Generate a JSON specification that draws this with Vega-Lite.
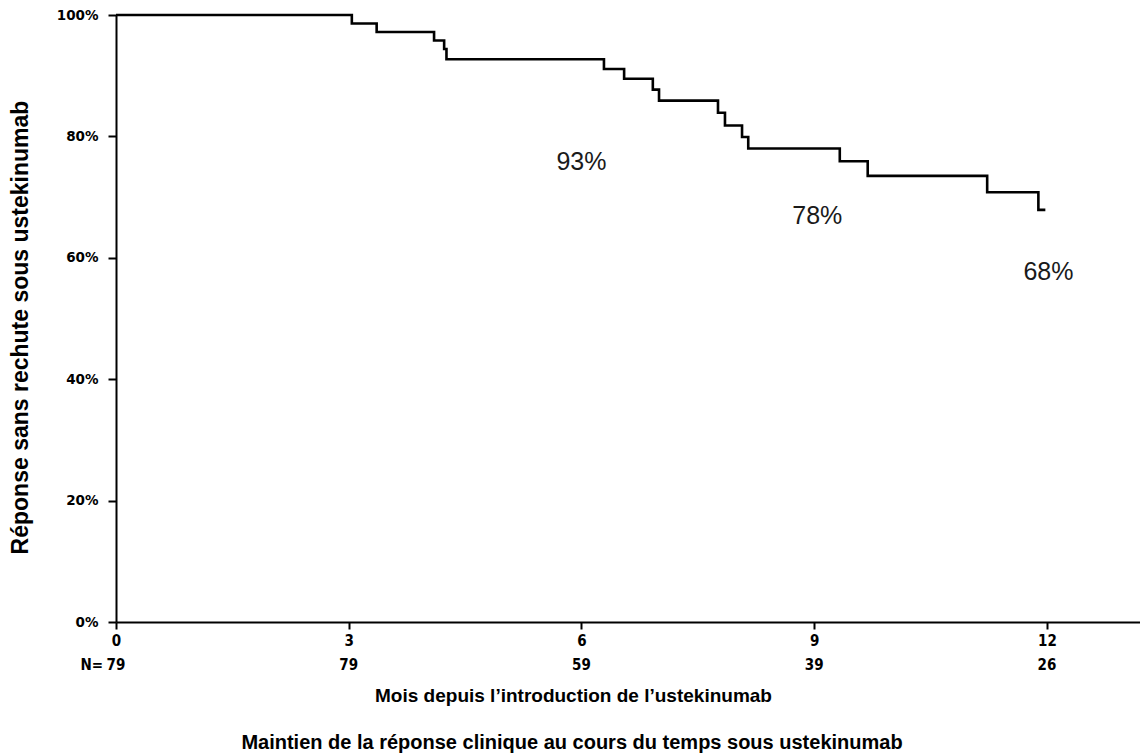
{
  "$schema": "https://vega.github.io/schema/vega-lite/v6.json",
  "width": 1024,
  "height": 607,
  "autosize": {"type": "none"},
  "padding": {"left": 116, "top": 15, "right": 0, "bottom": 133},
  "background": "white",
  "config": {"view": {"stroke": null}, "axis": {"grid": false}},
  "title": {
    "text": "Maintien de la réponse clinique au cours du temps sous ustekinumab",
    "orient": "bottom",
    "anchor": "middle",
    "dx": -56,
    "offset": 28,
    "font": "Liberation Sans",
    "fontSize": 20,
    "fontWeight": "bold",
    "color": "black"
  },
  "datasets": {
    "km": [
      {"month": 0, "survival": 100},
      {"month": 3.04, "survival": 98.6},
      {"month": 3.36, "survival": 97.2},
      {"month": 4.10, "survival": 95.8},
      {"month": 4.23, "survival": 94.4},
      {"month": 4.26, "survival": 92.7},
      {"month": 6.29, "survival": 91.1},
      {"month": 6.55, "survival": 89.5},
      {"month": 6.92, "survival": 87.7},
      {"month": 7.00, "survival": 85.9},
      {"month": 7.76, "survival": 83.9},
      {"month": 7.85, "survival": 81.8},
      {"month": 8.07, "survival": 79.9},
      {"month": 8.15, "survival": 78.0},
      {"month": 9.33, "survival": 75.9},
      {"month": 9.69, "survival": 73.5},
      {"month": 11.23, "survival": 70.8},
      {"month": 11.89, "survival": 67.9},
      {"month": 11.98, "survival": 67.9}
    ],
    "ann": [
      {"month": 6.0, "value": 75.8, "label": "93%"},
      {"month": 9.04, "value": 66.9, "label": "78%"},
      {"month": 12.02, "value": 57.7, "label": "68%"}
    ],
    "nrisk": [
      {"month": 0, "n": "79"},
      {"month": 3, "n": "79"},
      {"month": 6, "n": "59"},
      {"month": 9, "n": "39"},
      {"month": 12, "n": "26"}
    ],
    "nlab": [{"label": "N="}]
  },
  "layer": [
    {
      "data": {"name": "km"},
      "mark": {"type": "line", "interpolate": "step-after", "color": "black", "strokeWidth": 2.6},
      "encoding": {
        "x": {
          "field": "month",
          "type": "quantitative",
          "scale": {"domain": [0, 13.2], "nice": false, "zero": false},
          "axis": {
            "values": [0, 3, 6, 9, 12],
            "format": "d",
            "title": "Mois depuis l\u2019introduction de l\u2019ustekinumab",
            "titleFont": "Liberation Sans",
            "titleFontSize": 19,
            "titleFontWeight": "bold",
            "titleColor": "black",
            "titleX": 457,
            "titleY": 64,
            "titleBaseline": "top",
            "domainColor": "black",
            "domainWidth": 2,
            "tickColor": "black",
            "tickWidth": 2,
            "tickSize": 7,
            "labelFont": "DejaVu Sans Condensed",
            "labelFontSize": 15,
            "labelFontWeight": "bold",
            "labelColor": "black",
            "labelPadding": 4,
            "labelFlush": false
          }
        },
        "y": {
          "field": "survival",
          "type": "quantitative",
          "scale": {"domain": [0, 100], "nice": false},
          "axis": {
            "values": [0, 20, 40, 60, 80, 100],
            "labelExpr": "datum.value + '%'",
            "title": "Réponse sans rechute sous ustekinumab",
            "titleFont": "Liberation Sans",
            "titleFontSize": 23,
            "titleFontWeight": "bold",
            "titleColor": "black",
            "titleX": -84,
            "titleY": 312,
            "titleBaseline": "bottom",
            "domainColor": "black",
            "domainWidth": 2,
            "tickColor": "black",
            "tickWidth": 2,
            "tickSize": 8,
            "labelFont": "DejaVu Sans",
            "labelFontSize": 13.5,
            "labelFontWeight": "bold",
            "labelColor": "black",
            "labelPadding": 10,
            "labelFlush": false
          }
        }
      }
    },
    {
      "data": {"name": "ann"},
      "mark": {"type": "text", "font": "Liberation Sans", "fontSize": 25, "color": "#1a1a1a", "baseline": "middle", "align": "center"},
      "encoding": {
        "x": {"field": "month", "type": "quantitative"},
        "y": {"field": "value", "type": "quantitative"},
        "text": {"field": "label"}
      }
    },
    {
      "data": {"name": "nrisk"},
      "mark": {"type": "text", "font": "DejaVu Sans Condensed", "fontSize": 15, "fontWeight": "bold", "color": "black", "baseline": "middle", "align": "center"},
      "encoding": {
        "x": {"field": "month", "type": "quantitative"},
        "y": {"datum": -7.1},
        "text": {"field": "n"}
      }
    },
    {
      "data": {"name": "nlab"},
      "mark": {"type": "text", "font": "DejaVu Sans Condensed", "fontSize": 15, "fontWeight": "bold", "color": "black", "baseline": "middle", "align": "right", "dx": -13},
      "encoding": {
        "x": {"datum": 0},
        "y": {"datum": -7.1},
        "text": {"field": "label"}
      }
    }
  ]
}
